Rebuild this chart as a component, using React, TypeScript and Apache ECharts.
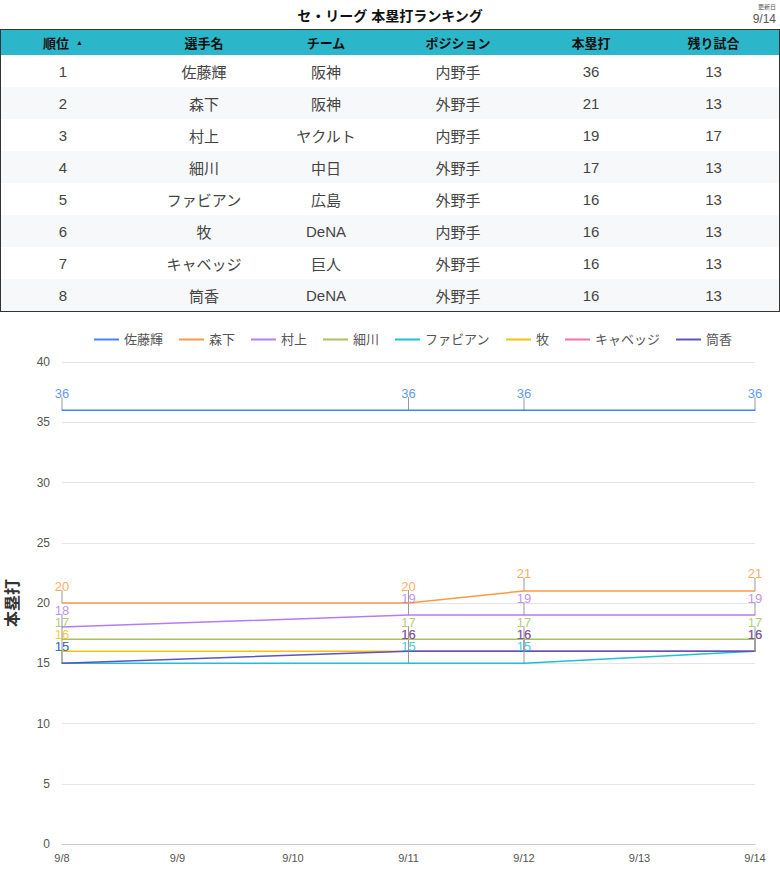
import { useEffect, useRef } from "react";
import * as echarts from "echarts";

const FONT = "'Liberation Sans', 'Noto Sans CJK JP', sans-serif";

// table
const columns = ["順位", "選手名", "チーム", "ポジション", "本塁打", "残り試合"];
const colWidths = [124, 158, 86, 178, 88, 143];
const ranks = [1, 2, 3, 4, 5, 6, 7, 8];
const players = ["佐藤輝", "森下", "村上", "細川", "ファビアン", "牧", "キャベッジ", "筒香"];
const teams = ["阪神", "阪神", "ヤクルト", "中日", "広島", "DeNA", "巨人", "DeNA"];
const positions = ["内野手", "外野手", "内野手", "外野手", "外野手", "内野手", "外野手", "外野手"];
const homeRuns = [36, 21, 19, 17, 16, 16, 16, 16];
const gamesLeft = [13, 13, 17, 13, 13, 13, 13, 13];

// chart
const days = ["9/8", "9/9", "9/10", "9/11", "9/12", "9/13", "9/14"];
const colors = ["#4285f4", "#ff9a42", "#b47cf5", "#a9c25d", "#22bfd2", "#f4c20d", "#f26eb5", "#5c54c4"];
const satoValues = [36, null, null, 36, 36, null, 36];
const morishitaValues = [20, null, null, 20, 21, null, 21];
const murakamiValues = [18, null, null, 19, 19, null, 19];
const hosokawaValues = [17, null, null, 17, 17, null, 17];
const fabianValues = [15, null, null, 15, 15, null, 16];
const makiValues = [16, null, null, 16, 16, null, 16];
const cabbageValues = [null, null, null, 16, 16, null, 16];
const tsutsugoValues = [15, null, null, 16, 16, null, 16];
const yTicks = { min: 0, max: 40, interval: 5 };

const seriesValues = [
  satoValues, morishitaValues, murakamiValues, hosokawaValues,
  fabianValues, makiValues, cabbageValues, tsutsugoValues,
];

function HomeRunChart() {
  const ref = useRef<HTMLDivElement>(null);

  useEffect(() => {
    if (!ref.current) return;
    const chart = echarts.init(ref.current, null, { renderer: "svg" });

    // short grey drops from each point up to its label
    const drops: [number, number][] = [];
    seriesValues.forEach((vals) => vals.forEach((v, i) => { if (v != null) drops.push([i, v]); }));

    const lines: any[] = players.map((name, idx) => ({
      name, type: "line", data: seriesValues[idx], connectNulls: true,
      symbol: "circle", symbolSize: 1,
      lineStyle: { width: 1.5, color: colors[idx] },
      itemStyle: { color: colors[idx] },
      label: { show: true, position: "top", distance: 10, color: colors[idx], fontSize: 13, fontFamily: FONT, opacity: 0.85 },
      labelLayout: { hideOverlap: false },
      z: 3,
    }));

    chart.setOption({
      animation: false,
      textStyle: { fontFamily: FONT },
      legend: {
        data: players, top: 16, left: 88, itemWidth: 25, itemHeight: 14, itemGap: 15,
        textStyle: { color: "#555", fontSize: 13, fontFamily: FONT },
        itemStyle: { opacity: 0 },
      },
      grid: { left: 62, right: 25, top: 50, bottom: 33, outerBoundsMode: "none", containLabel: false },
      xAxis: {
        type: "category", data: days, boundaryGap: false,
        axisLine: { lineStyle: { color: "#ccc" } }, axisTick: { show: false },
        axisLabel: { color: "#555", fontSize: 11, margin: 8 },
        splitLine: { show: false },
      },
      yAxis: {
        type: "value", min: yTicks.min, max: yTicks.max, interval: yTicks.interval,
        name: "本塁打", nameLocation: "middle", nameGap: 42, nameRotate: 90,
        nameTextStyle: { fontSize: 16, fontWeight: "bold", color: "#333", fontFamily: FONT },
        axisLine: { show: false }, axisTick: { show: false },
        axisLabel: { color: "#555", fontSize: 12, margin: 12 },
        splitLine: { lineStyle: { color: "#e4e4e4" } },
      },
      series: [
        {
          type: "custom", name: "drops", data: drops, encode: { x: 0, y: 1 }, z: 2, silent: true,
          renderItem: (_p: any, api: any) => {
            const pt = api.coord([api.value(0), api.value(1)]);
            return {
              type: "line",
              shape: { x1: pt[0], y1: pt[1], x2: pt[0], y2: pt[1] - 13 },
              style: { stroke: "#999", lineWidth: 1 },
            };
          },
        },
        ...lines,
      ],
    });

    return () => chart.dispose();
  }, []);

  return <div ref={ref} style={{ width: 780, height: 565 }} />;
}

export default function App() {
  useEffect(() => {
    document.body.style.margin = "0";
  }, []);

  const cell = (w: number, padLeft = 0) => ({
    width: w, flexShrink: 0, boxSizing: "border-box" as const, paddingLeft: padLeft,
    display: "flex", alignItems: "center", justifyContent: "center",
  });

  return (
    <div style={{ width: 780, fontFamily: FONT, background: "#fff" }}>
      <div style={{ position: "relative", height: 29 }}>
        <div style={{ position: "absolute", left: 0, right: 0, top: 5, textAlign: "center", fontSize: 14, fontWeight: "bold", color: "#111" }}>
          セ・リーグ 本塁打ランキング
        </div>
        <div style={{ position: "absolute", right: 4, top: 4, textAlign: "right", color: "#555", lineHeight: 1 }}>
          <div style={{ fontSize: 6 }}>更新日</div>
          <div style={{ fontSize: 12, marginTop: 3 }}>9/14</div>
        </div>
      </div>
      <div style={{ border: "1.5px solid #333", boxSizing: "border-box", width: 780, overflow: "hidden" }}>
        <div style={{ display: "flex", height: 25, background: "#2bb7c9", fontSize: 13, fontWeight: "bold", color: "#111" }}>
          {columns.map((c, i) => (
            <div key={c} style={cell(colWidths[i], i === 5 ? 14 : 0)}>
              {c}
              {i === 0 && <span style={{ fontSize: 7, marginLeft: 7 }}>▲</span>}
            </div>
          ))}
        </div>
        {ranks.map((r, i) => (
          <div key={r} style={{ display: "flex", height: 32, background: i % 2 ? "#f7f8fa" : "#fff", fontSize: 15, color: "#444" }}>
            {[r, players[i], teams[i], positions[i], homeRuns[i], gamesLeft[i]].map((v, j) => (
              <div key={j} style={cell(colWidths[j], j === 5 ? 14 : 0)}>{v}</div>
            ))}
          </div>
        ))}
      </div>
      <HomeRunChart />
    </div>
  );
}
